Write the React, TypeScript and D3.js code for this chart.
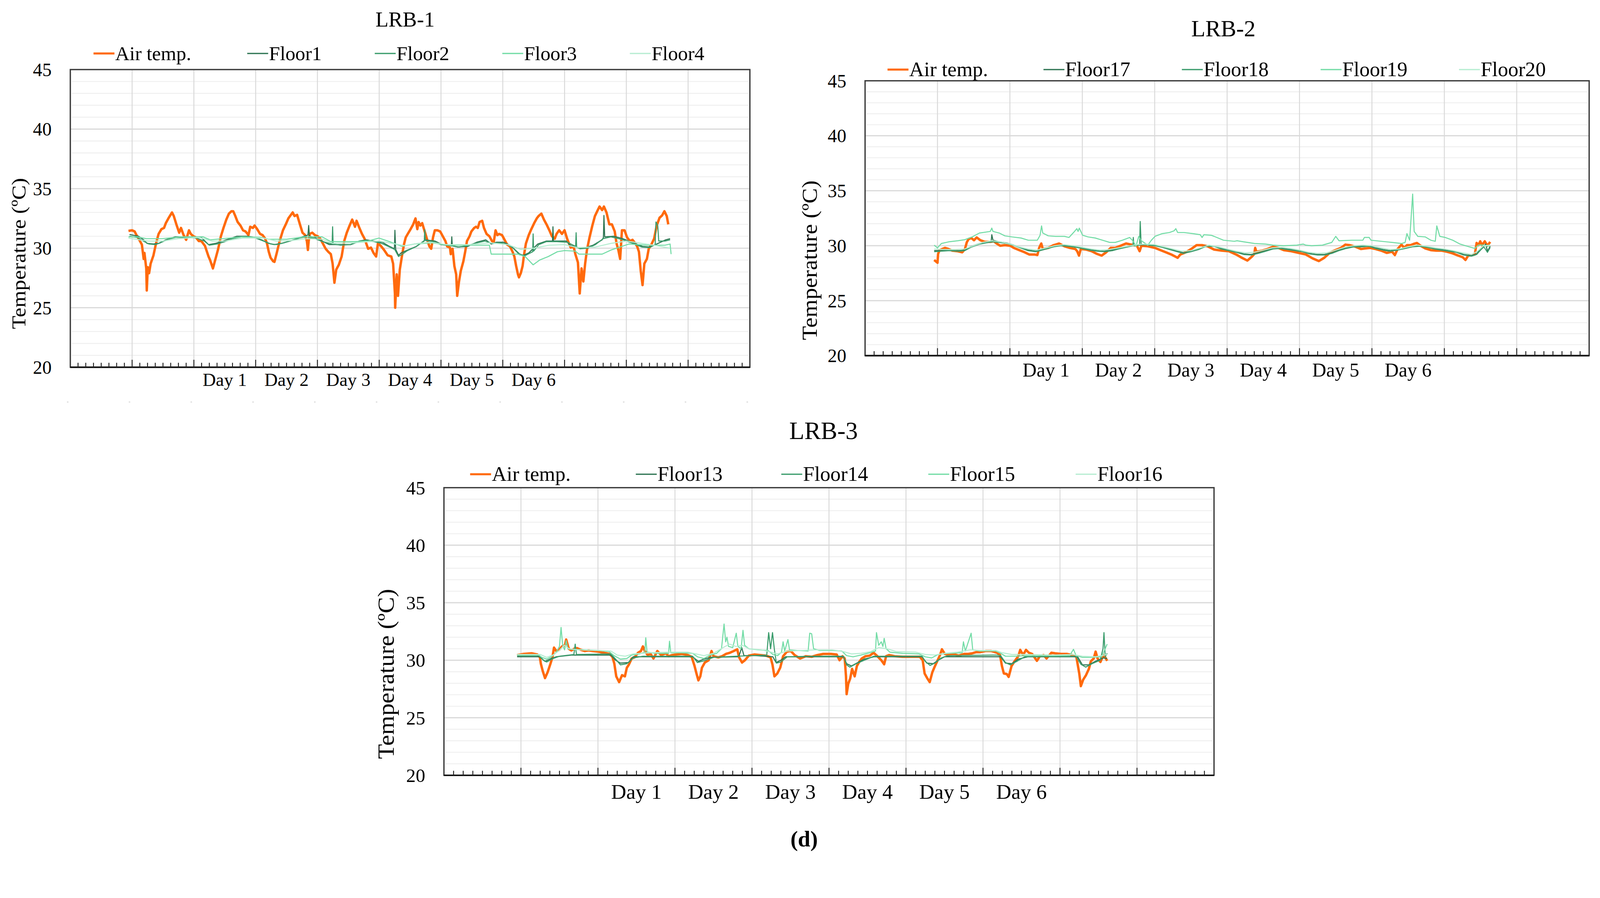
import React from "react";
import * as d3 from "d3";

type Pt = [number, number]; // [hour, temperature °C]

// ---------------- LRB-1 ----------------
const lrb1Air: Pt[] = [[22.6,31.45],[24,31.5],[25,31.4],[25.7,31.1],[26.8,30.7],[27.8,30.3],[28.5,29.1],[28.8,29.6],[29.5,28.3],[29.7,26.45],[30.1,28.4],[30.6,27.9],[31.2,28.7],[32.3,29.4],[33.3,30.4],[34.3,31.2],[35.4,31.6],[36.4,31.7],[37.1,32.1],[38.1,32.5],[39.5,33.0],[40.2,32.7],[41.2,32.0],[42.3,31.3],[43,31.7],[44,31.1],[45,30.7],[46.1,31.5],[46.8,31.2],[47.8,31.0],[48.8,30.9],[49.9,30.6],[50.9,30.6],[52.3,30.2],[53.7,29.3],[54.3,29.0],[55.4,28.3],[56.4,29.1],[57.4,29.9],[58.5,31.0],[59.5,31.7],[60.6,32.4],[61.6,32.9],[62.6,33.1],[63.3,33.1],[64.1,32.7],[65,32.2],[66.1,31.9],[67.1,31.5],[68.1,31.4],[69.2,31.1],[69.9,31.8],[70.9,31.7],[71.6,31.9],[72.6,31.6],[73.7,31.2],[74.7,31.1],[75.7,30.8],[76.4,30.4],[77.1,29.7],[77.8,29.2],[78.8,28.9],[79.3,28.85],[80.2,29.6],[81.2,30.5],[82.6,31.5],[83.7,32.0],[84.7,32.5],[85.7,32.8],[86.4,33.0],[87.1,32.7],[88.1,32.8],[89.2,32.0],[90.2,31.3],[91.2,31.1],[91.9,30.6],[92.3,29.85],[92.6,30.6],[93,31.2],[94,31.3],[95,31.1],[96.1,31.0],[97.1,30.8],[98.1,30.4],[99.2,29.95],[100.2,29.7],[101.2,29.5],[101.9,28.7],[102.6,27.1],[103.3,28.2],[104.3,28.6],[105.4,29.3],[106.4,30.6],[107.4,31.3],[108.5,31.9],[109.5,32.4],[110.6,31.8],[111.2,32.3],[112.3,31.7],[113.3,31.2],[114.3,30.8],[115.7,29.95],[116.8,30.05],[117.8,29.6],[118.8,29.3],[119.5,30.4],[120.6,30.2],[121.9,29.85],[123.3,29.4],[124.7,29.3],[125.4,28.7],[126.1,26.2],[126.2,25.0],[126.8,27.8],[127.3,26.0],[128.0,28.2],[128.8,29.3],[129.6,30.3],[130.3,30.9],[131.1,31.2],[132.2,31.6],[133.2,32.0],[134.1,32.5],[134.8,31.6],[135.3,32.2],[136.0,31.9],[136.7,32.1],[137.4,31.6],[138.1,31.1],[138.8,30.6],[139.5,30.15],[140.2,29.95],[140.9,30.9],[141.6,31.5],[142.6,31.5],[143.7,31.4],[144.7,31.0],[145.7,30.6],[146.4,30.15],[147.5,30.05],[147.8,29.5],[148.5,29.95],[149.2,28.5],[149.9,27.8],[150.3,26.0],[151.0,27.2],[151.7,28.1],[152.7,28.9],[153.4,29.7],[154.1,30.6],[155.1,31.0],[155.8,31.4],[156.9,31.7],[157.6,31.8],[158.3,31.7],[159.0,32.2],[160.0,32.3],[160.7,31.7],[161.7,31.2],[162.8,31.0],[163.8,30.6],[164.5,30.5],[165.2,31.5],[165.9,31.1],[166.6,31.2],[167.7,31.1],[168.7,30.7],[169.7,30.3],[170.8,30.15],[171.8,29.7],[172.5,29.3],[173.2,28.5],[173.9,27.8],[174.3,27.55],[175.0,27.9],[175.7,28.5],[176.3,29.5],[177.0,30.4],[178.1,31.1],[179.1,31.6],[180.2,32.1],[181.2,32.5],[181.9,32.7],[183.0,32.9],[184.0,32.4],[185.0,32.0],[186.1,31.5],[187.1,31.0],[188.2,30.8],[188.9,31.2],[189.9,31.5],[191.0,31.2],[192.0,31.5],[193.0,30.8],[193.7,30.4],[194.4,30.05],[195.5,30.15],[196.2,29.5],[197.2,28.8],[197.9,26.2],[198.6,28.3],[199.3,27.2],[200.0,28.7],[200.7,29.85],[201.7,30.9],[202.8,31.9],[203.8,32.7],[204.9,33.2],[205.6,33.5],[206.6,33.2],[207.3,33.5],[208.3,33.0],[209.4,32.0],[210.4,32.0],[211.5,31.4],[212.2,30.4],[212.9,29.85],[213.6,29.1],[214.3,31.5],[215.3,31.5],[216.3,30.9],[217.4,30.6],[218.4,30.7],[219.5,30.4],[220.2,30.15],[220.9,29.7],[221.6,28.1],[222.3,26.9],[223.0,28.7],[224.0,29.1],[224.7,29.95],[225.7,30.3],[226.8,30.8],[227.8,31.9],[228.9,32.55],[229.9,32.75],[230.8,33.1],[231.7,32.7],[232.3,32.0]];

const lrb1Floor1: Pt[] = [[23,31.15],[26.5,31.0],[28.5,30.7],[29.8,30.4],[32.3,30.35],[34.3,30.4],[37.1,30.7],[40.6,30.95],[44.7,30.95],[48.2,30.9],[50.9,30.9],[53.7,30.3],[56.4,30.4],[59.2,30.6],[62,30.8],[64.7,31.0],[68.8,31.0],[71.6,30.9],[74.3,30.7],[77.1,30.4],[79.2,30.3],[81.9,30.4],[85.4,30.6],[88.1,30.8],[90.9,31.0],[92.3,31.1],[92.6,31.9],[92.9,31.0],[95,30.9],[97.8,30.6],[100.6,30.3],[105.3,30.3],[108.8,30.3],[112.3,30.6],[115,30.7],[117.8,30.6],[121.2,30.5],[124,30.15],[125.9,29.95],[126.1,31.5],[126.4,29.9],[127.5,29.4],[128.5,29.6],[131.1,29.85],[134.5,30.15],[137.9,30.7],[141.6,30.6],[144,30.35],[148.0,30.2],[148.2,30.95],[148.4,30.2],[150.3,30.1],[154.4,30.15],[157.9,30.5],[161.4,30.7],[163.5,30.35],[165.6,30.5],[168.3,30.5],[171.1,30.2],[174.6,29.5],[176,29.4],[178.1,29.6],[181.6,30.35],[185,30.6],[187.3,30.6],[187.5,31.8],[187.7,30.6],[192.7,30.6],[194.1,30.25],[197.6,30.0],[200.3,30.05],[203.1,30.25],[206.6,30.7],[207.1,30.9],[207.3,32.75],[207.6,30.95],[211.1,31.0],[214.6,30.8],[218.1,30.5],[222.3,30.15],[225,30.1],[227.8,30.35],[231.3,30.7],[233,30.8]];

const lrb1Floor2: Pt[] = [[23,31.0],[26,30.9],[28.8,30.55],[30.5,30.35],[33,30.3],[35,30.45],[38,30.75],[41,30.9],[45,30.9],[49,30.85],[52,30.6],[54,30.25],[57,30.35],[60,30.55],[63,30.8],[66.5,30.95],[69,30.95],[72,30.85],[75,30.6],[78,30.35],[80,30.3],[83,30.45],[86,30.65],[89,30.85],[92,30.95],[95,30.8],[98,30.55],[101.7,30.35],[101.9,31.8],[102.1,30.35],[105,30.25],[109,30.3],[112,30.55],[115,30.65],[118,30.55],[121,30.4],[124,30.1],[126,29.9],[127.5,29.3],[129,29.5],[131,29.8],[134,30.1],[137.5,30.6],[137.7,31.55],[137.9,30.65],[141,30.55],[144,30.3],[148,30.2],[151,30.1],[154,30.2],[158,30.45],[161,30.6],[164,30.4],[167,30.45],[170,30.3],[172,30.0],[174.5,29.45],[176.5,29.35],[179.6,29.7],[179.8,31.2],[180,29.75],[182,30.3],[185,30.55],[189,30.55],[193,30.5],[196.3,30.15],[196.5,31.3],[196.7,30.1],[198,29.95],[201,30.0],[204,30.3],[207,30.8],[210,30.95],[214,30.75],[218,30.45],[222,30.1],[225,30.05],[227.2,30.3],[227.5,32.2],[228.2,31.9],[228.6,30.6],[231,30.6],[233,30.7]];

const lrb1Floor3: Pt[] = [[22.6,30.95],[26.1,30.95],[29.5,30.8],[35.7,30.8],[42.6,30.95],[51.6,30.95],[54.3,30.7],[59.2,30.8],[66.8,30.95],[74.3,30.9],[77.1,30.75],[84,30.75],[90.9,30.95],[97.8,30.95],[101.2,30.55],[110.2,30.55],[115.7,30.6],[119.9,30.85],[124,30.55],[128.8,30.15],[133.6,30.35],[140.5,30.45],[147.5,30.25],[162.8,30.25],[163.5,29.5],[173.9,29.5],[176.7,29.3],[179.8,28.6],[182.3,29.0],[185.7,29.3],[189.2,29.7],[192,29.8],[196.2,29.75],[197.6,29.5],[206.6,29.5],[210.1,29.85],[212.9,30.05],[217,30.35],[224,30.25],[231,30.25],[233,30.35],[233.4,29.5]];

const lrb1Floor4: Pt[] = [[22.6,30.85],[27,30.7],[30,30.6],[36,30.6],[42,30.8],[50,30.9],[55,30.6],[60,30.6],[67,30.85],[75,30.85],[80,30.6],[86,30.65],[92,30.8],[98,30.75],[102,30.4],[110,30.45],[116,30.55],[120,30.6],[125,30.4],[130,30.2],[135,30.4],[140,30.5],[146,30.3],[155,30.3],[163,30.45],[170,30.3],[175,29.9],[180,30.0],[186,30.25],[192,30.3],[197,30.05],[204,30.1],[210,30.4],[216,30.6],[222,30.4],[228,30.2],[233,30.0]];

// ---------------- LRB-2 ----------------
const lrb2Air: Pt[] = [[22.9,28.7],[24,28.45],[24.2,29.25],[24.7,29.6],[25.6,29.7],[26.5,29.8],[27.7,29.7],[28.9,29.55],[30.7,29.5],[32.2,29.4],[33.1,29.7],[33.7,30.3],[34.3,30.6],[35.2,30.7],[36.1,30.5],[37.0,30.75],[38.2,30.5],[39.7,30.35],[41.5,30.35],[42.7,30.4],[43.6,30.2],[44.8,30.0],[46.3,30.05],[48.1,30.0],[49.3,29.8],[51.1,29.6],[52.9,29.4],[54.4,29.2],[56.2,29.2],[57.1,29.15],[57.7,29.8],[58.4,30.2],[58.9,29.7],[60.7,29.8],[62.5,30.05],[64.3,30.2],[66.1,29.95],[67.9,29.8],[69.7,29.7],[70.3,29.5],[70.9,29.1],[71.5,29.7],[73.3,29.65],[75.1,29.5],[76.9,29.25],[78.4,29.1],[79.9,29.4],[81.4,29.8],[82.9,29.8],[84.7,30.0],[86.5,30.2],[88.3,30.1],[90.1,30.0],[91.0,29.5],[91.6,30.0],[93.7,29.95],[96.1,29.8],[97.9,29.6],[99.7,29.4],[101.5,29.2],[103.6,28.9],[104.5,29.2],[106.3,29.4],[108.1,29.7],[109.9,30.05],[111.7,30.05],[113.5,29.95],[115.7,29.65],[118.2,29.55],[120.6,29.5],[123.0,29.2],[124.9,28.9],[126.7,28.65],[128.2,29.0],[129.0,29.25],[129.3,29.8],[129.7,29.45],[131.6,29.55],[133.4,29.7],[135.2,29.9],[137.0,29.8],[138.8,29.6],[141.3,29.5],[143.7,29.35],[146.1,29.2],[148.3,28.85],[150.4,28.6],[152.2,28.9],[154.0,29.35],[155.9,29.6],[157.7,29.8],[159.2,30.1],[160.7,30.05],[162.6,29.9],[164.4,29.7],[165.6,29.75],[167.4,29.8],[169.2,29.7],[171.1,29.55],[172.9,29.35],[174.7,29.45],[175.6,29.15],[176.5,29.7],[177.8,30.1],[178.7,29.8],[179.6,30.05],[180.8,30.05],[181.7,30.15],[182.9,30.25],[184.1,30.0],[185.7,29.75],[187.5,29.6],[189.3,29.55],[191.1,29.55],[192.9,29.45],[194.8,29.3],[196.6,29.1],[198.1,28.95],[199.0,28.7],[199.9,29.1],[201.2,29.15],[202.1,29.2],[202.7,30.25],[203.3,30.05],[203.9,30.4],[204.5,30.05],[205.4,30.4],[206.3,30.0],[207.2,30.35]];

const lrb2Floor17: Pt[] = [[22.9,29.55],[24.7,29.55],[27.7,29.6],[30.7,29.55],[33.1,29.6],[34.9,29.9],[37.9,30.2],[39.7,30.3],[41.8,30.4],[42.0,31.0],[42.4,30.5],[44.5,30.35],[46.9,30.25],[49.3,30.05],[51.7,29.8],[54.1,29.6],[56.5,29.5],[57.7,29.6],[60.1,29.75],[62.5,29.95],[64.9,30.05],[67.3,30.0],[69.7,29.9],[72.1,29.8],[74.5,29.65],[76.9,29.55],[79.3,29.5],[81.7,29.6],[84.1,29.75],[86.5,29.9],[88.9,30.05],[93.7,30.1],[96.1,30.05],[98.5,29.9],[100.9,29.7],[103.3,29.5],[105.7,29.35],[108.1,29.5],[110.5,29.7],[112.9,30.0],[115.7,29.95],[118.2,29.75],[120.6,29.6],[123.0,29.45],[125.5,29.25],[127.9,29.2],[130.3,29.35],[132.8,29.55],[135.2,29.75],[137.6,29.8],[140.1,29.7],[142.5,29.6],[144.9,29.5],[147.4,29.3],[149.8,29.2],[152.2,29.2],[154.7,29.35],[157.1,29.6],[159.5,29.8],[161.9,29.95],[164.4,29.95],[166.8,30.0],[169.2,29.8],[171.7,29.65],[174.1,29.55],[176.5,29.65],[179.0,29.8],[181.4,29.95],[183.8,30.0],[186.3,29.9],[188.7,29.75],[191.1,29.65],[193.6,29.55],[196.0,29.45],[198.4,29.2],[200.9,29.1],[202.7,29.25],[203.9,29.7],[205.1,29.95],[205.7,30.15],[206.3,29.5],[207.2,29.95]];

const lrb2Floor18: Pt[] = [[22.9,29.45],[25,29.5],[28,29.55],[31,29.5],[33,29.55],[35,29.85],[38,30.15],[40,30.25],[42,30.35],[44.5,30.3],[47,30.2],[49.5,30.0],[52,29.75],[54,29.55],[56.5,29.45],[58,29.55],[60,29.7],[62.5,29.9],[65,30.0],[67.5,29.95],[70,29.85],[72,29.75],[74.5,29.6],[77,29.5],[79.5,29.45],[82,29.55],[84,29.7],[86.5,29.85],[88.8,30.0],[88.9,30.75],[89.1,30.0],[91.0,30.05],[91.2,32.2],[91.5,30.15],[94,30.05],[96,30.0],[98.5,29.85],[101,29.65],[103.5,29.45],[105.5,29.3],[108,29.45],[110.5,29.65],[113,29.95],[115.7,29.95],[118,29.7],[120.6,29.55],[123,29.4],[125.5,29.2],[128,29.15],[130.3,29.3],[132.8,29.5],[135.2,29.7],[137.6,29.75],[140,29.65],[142.5,29.55],[145,29.45],[147.4,29.25],[150,29.15],[152.2,29.15],[154.7,29.3],[157,29.55],[159.5,29.75],[162,29.9],[164.5,29.9],[167,29.95],[169.2,29.75],[171.7,29.6],[174,29.5],[176.5,29.6],[179,29.75],[181.4,29.9],[183.8,29.95],[186.3,29.85],[188.7,29.7],[191,29.6],[193.6,29.5],[196,29.4],[198.4,29.15],[201,29.05],[202.7,29.2],[204,29.6],[205.1,29.9],[206.3,29.4],[207.2,29.85]];

const lrb2Floor19: Pt[] = [[22.9,30.05],[24,29.8],[25.3,30.2],[27.7,30.35],[30.7,30.45],[33.1,30.55],[35.5,30.8],[37.9,31.15],[41.5,31.3],[42.0,31.6],[42.4,31.3],[44.5,31.15],[46.3,30.9],[48.7,30.8],[51.7,30.7],[54.1,30.5],[57.1,30.5],[58.0,30.95],[58.5,31.8],[58.9,31.15],[60.7,30.9],[63.1,30.85],[66.1,30.85],[67.6,30.75],[69.1,31.2],[70.2,31.55],[70.6,31.3],[71.0,31.6],[72.1,30.95],[73.9,30.8],[76.3,30.7],[78.7,30.5],[81.1,30.3],[82.9,30.3],[85.3,30.5],[87.7,30.75],[88.9,30.4],[89.8,29.95],[90.7,30.85],[91.6,30.45],[93.7,30.05],[94.9,30.5],[96.1,30.85],[98.5,31.1],[100.9,31.2],[102.4,31.35],[103.0,31.55],[103.6,31.2],[105.7,31.2],[108.7,31.1],[111.1,31.0],[111.7,30.75],[112.3,31.0],[114.7,30.95],[115.7,30.85],[118.8,30.5],[122.4,30.4],[123.3,30.45],[125.5,30.35],[129.1,30.2],[132.8,30.15],[135.2,30.05],[138.8,30.0],[143.1,30.05],[145.2,30.15],[146.1,30.05],[148.0,30.0],[151.6,30.05],[154.7,30.3],[156.0,30.85],[157.1,30.45],[161.3,30.5],[165.0,30.5],[165.5,30.75],[167.1,30.75],[167.7,30.5],[171.1,30.4],[174.7,30.3],[177.8,30.2],[179.0,30.3],[179.6,31.1],[180.5,30.5],[181.5,34.7],[182.0,31.3],[183.2,30.85],[185.7,30.8],[187.5,30.5],[189.0,30.4],[189.5,31.8],[190.5,30.85],[192.3,30.75],[194.8,30.5],[197.2,30.15],[199.6,29.95],[202.1,29.75],[203.3,30.05],[205.1,30.05],[206.3,29.95],[207.2,30.05]];

const lrb2Floor20: Pt[] = [[22.9,29.7],[26,29.65],[30,29.65],[33,29.7],[36,30.0],[39,30.3],[42,30.45],[45,30.35],[48,30.15],[51,29.9],[54,29.7],[57,29.6],[60,29.8],[63,30.0],[66,30.1],[69,30.0],[72,29.85],[75,29.7],[78,29.6],[81,29.65],[84,29.8],[87,29.95],[90,30.1],[93,30.15],[96,30.1],[99,29.9],[102,29.7],[105,29.5],[108,29.55],[111,29.8],[114,30.05],[117,29.9],[120,29.7],[123,29.5],[126,29.35],[129,29.4],[132,29.6],[135,29.8],[138,29.85],[141,29.75],[144,29.6],[147,29.4],[150,29.3],[153,29.35],[156,29.6],[159,29.85],[162,30.0],[165,30.05],[168,30.0],[171,29.8],[174,29.65],[177,29.7],[180,29.9],[183,30.05],[186,29.95],[189,29.8],[192,29.7],[195,29.55],[198,29.35],[201,29.2],[203,29.5],[205,30.0],[207.2,30.05]];

// ---------------- LRB-3 ----------------
const lrb3Air: Pt[] = [[22.8,30.45],[24.9,30.55],[27.3,30.6],[29.1,30.5],[29.9,30.25],[30.2,29.7],[30.8,29.05],[31.5,28.45],[32.3,28.95],[33.2,29.7],[33.8,30.25],[34.3,31.1],[35.0,30.8],[35.9,30.9],[36.8,31.2],[37.7,31.3],[38.1,31.8],[38.9,31.0],[39.7,30.85],[40.6,31.0],[41.5,31.05],[42.7,30.9],[43.9,30.8],[45.1,30.85],[46.3,30.8],[48.1,30.75],[49.8,30.65],[51.6,30.55],[52.5,30.3],[53.1,29.7],[53.7,28.6],[54.6,28.1],[55.5,28.7],[56.4,28.6],[57.0,29.35],[57.6,29.6],[58.5,30.15],[59.4,30.25],[60.5,30.65],[61.4,30.8],[62.0,31.2],[62.6,30.8],[63.5,30.45],[64.4,30.55],[65.3,30.15],[66.5,30.8],[67.7,30.45],[69.2,30.6],[70.0,30.35],[71.2,30.45],[72.4,30.5],[74.2,30.55],[76.0,30.45],[77.2,30.3],[78.1,29.5],[78.7,28.85],[79.3,28.25],[79.9,28.6],[80.4,29.35],[81.3,29.8],[82.5,30.0],[83.4,30.8],[84.0,30.35],[85.5,30.25],[86.7,30.35],[87.9,30.55],[89.1,30.65],[90.3,30.8],[91.4,30.95],[92.0,30.25],[92.9,29.8],[93.8,30.0],[95.0,30.4],[96.8,30.5],[98.6,30.45],[100.4,30.4],[101.8,30.25],[102.4,29.6],[103.0,28.6],[103.9,28.85],[104.8,29.35],[105.7,30.35],[106.9,30.75],[108.1,30.8],[109.3,30.45],[111.0,30.15],[112.8,30.35],[114.6,30.3],[116.4,30.45],[118.2,30.55],[120.6,30.55],[122.4,30.5],[123.3,30.0],[124.2,30.35],[124.9,30.15],[125.3,28.6],[125.5,27.05],[126.0,27.95],[126.6,28.4],[127.2,29.25],[128.0,28.6],[128.7,29.5],[129.3,29.8],[130.2,30.15],[131.4,30.35],[132.7,30.4],[133.9,30.65],[135.1,30.35],[136.3,30.0],[137.2,29.65],[137.8,30.35],[138.7,30.45],[140.5,30.35],[142.9,30.3],[145.9,30.3],[148.3,30.3],[149.2,30.0],[149.8,28.85],[150.7,28.4],[151.4,28.1],[152.2,28.95],[152.8,29.35],[153.7,29.9],[154.6,30.45],[155.2,30.95],[156.1,30.55],[157.3,30.45],[158.6,30.55],[160.4,30.4],[162.2,30.55],[163.4,30.55],[164.6,30.6],[165.8,30.7],[167.0,30.7],[168.8,30.8],[170.6,30.8],[172.4,30.65],[173.3,30.45],[173.9,29.5],[174.5,28.85],[175.4,28.8],[176.0,28.55],[176.9,29.5],[177.8,29.9],[179.0,30.35],[179.6,30.9],[180.5,30.45],[181.4,30.9],[182.3,30.65],[183.3,30.55],[184.8,29.95],[185.7,30.35],[186.9,30.45],[187.8,30.15],[189.3,30.65],[190.5,30.6],[192.3,30.55],[194.1,30.55],[195.9,30.45],[197.1,30.3],[198.0,28.85],[198.5,27.75],[199.2,28.3],[200.1,28.7],[201.0,29.25],[201.6,29.9],[202.5,30.15],[203.1,30.75],[203.7,30.15],[204.6,29.85],[205.5,30.45],[206.1,30.25],[206.7,29.95]];

const lrb3Floor13: Pt[] = [[22.8,30.3],[29.8,30.3],[31.5,29.9],[33,30.1],[35,30.3],[40,30.45],[52,30.45],[53.5,30.0],[55,29.75],[57.5,29.8],[59,30.3],[77.5,30.3],[79.3,29.9],[81,30.1],[83,30.25],[91.5,30.3],[92,30.4],[92.8,31.1],[93.5,30.4],[97,30.4],[102.5,30.3],[103.5,29.8],[105,30.0],[106.5,30.3],[115,30.3],[120,30.3],[124.5,30.3],[125.5,29.7],[127,29.5],[129,29.8],[131,30.1],[134,30.3],[149,30.3],[150.5,29.75],[152.5,29.7],[154,30.0],[156,30.3],[173.5,30.3],[175,29.75],[177,29.7],[179,30.1],[182,30.3],[197.5,30.3],[199,29.6],[201,29.6],[203,29.9],[205.5,30.2],[206.7,30.15]];

const lrb3Floor14: Pt[] = [[22.8,30.4],[29.8,30.4],[31,30.0],[32,29.85],[34,30.15],[36,30.35],[40.5,30.5],[40.9,31.4],[41.3,30.5],[52,30.55],[53.5,30.1],[55,29.6],[57,29.7],[59,30.2],[62,30.35],[77.5,30.35],[79,29.8],[81,29.95],[84,30.25],[91,30.35],[96,30.4],[100.6,30.45],[101.2,32.4],[101.8,31.0],[102.4,32.4],[103,30.9],[103.6,29.75],[105,29.85],[107,30.3],[115,30.35],[120,30.35],[124.5,30.35],[125.5,29.6],[126.5,29.4],[128.5,29.7],[131,30.0],[134,30.35],[149,30.35],[150,29.9],[151.5,29.55],[153,29.75],[155,30.2],[157,30.4],[172,30.45],[173.5,30.4],[175,29.8],[176.5,29.6],[178.5,29.9],[181,30.3],[197,30.35],[198.5,29.65],[200,29.4],[202,29.7],[204.5,30.0],[205.4,31.0],[205.7,32.4],[206.1,30.3],[206.7,30.6]];

const lrb3Floor15: Pt[] = [[22.8,30.45],[29.5,30.45],[30.5,30.25],[32,30.1],[33.5,30.3],[35,30.7],[36,31.2],[36.5,32.85],[37,31.3],[37.6,30.9],[38.1,31.7],[38.6,31.0],[40,30.95],[44,30.9],[48,30.85],[51.5,30.75],[53,30.4],[55,30.1],[57,30.15],[58.5,30.45],[61,30.55],[62.6,30.7],[62.9,31.95],[63.3,30.7],[66,30.6],[70,30.6],[70.3,31.65],[70.7,30.65],[74,30.65],[77.5,30.6],[79,30.3],[81,30.15],[83,30.45],[85,30.6],[86.5,31.0],[87.3,33.15],[87.8,31.6],[88.2,32.0],[88.7,31.2],[90,31.1],[91.1,32.35],[91.6,31.2],[92.6,31.0],[93.2,32.6],[93.7,31.3],[95,31.0],[98,30.9],[101,30.85],[102.5,30.5],[104,30.4],[105.2,30.7],[105.7,31.6],[106.2,30.8],[107.2,31.8],[107.7,30.9],[110,30.85],[113.5,30.8],[114,32.35],[114.6,32.3],[115.2,31.0],[117,30.85],[121,30.85],[124,30.8],[125.5,30.4],[127.5,30.3],[130,30.45],[132,30.6],[134.5,30.8],[134.8,32.4],[135.5,31.3],[136.3,31.6],[136.8,31.2],[137.2,31.9],[137.8,31.0],[139,30.7],[143,30.6],[148,30.55],[150,30.3],[152,30.2],[154,30.5],[157,30.6],[161.5,30.65],[161.9,31.6],[162.5,30.8],[164.3,32.35],[164.8,30.9],[167,30.8],[172,30.8],[173.5,30.6],[175,30.35],[178,30.35],[182,30.4],[186,30.4],[190,30.4],[195,30.4],[196.2,30.95],[197,30.4],[199,30.25],[202,30.25],[205,30.3],[206.7,31.4]];

const lrb3Floor16: Pt[] = [[22.8,30.5],[30,30.5],[32,30.25],[34,30.45],[36,30.85],[37.5,31.3],[39,31.0],[42,30.9],[48,30.85],[52,30.8],[54,30.45],[56.5,30.35],[59,30.55],[64,30.65],[70,30.7],[76,30.7],[78.5,30.55],[81,30.4],[84,30.6],[87,31.1],[89,31.4],[91,31.2],[93,31.3],[95,31.0],[99,30.9],[102,30.7],[104,30.55],[107,30.8],[112,30.85],[116,30.9],[121,30.9],[124.5,30.75],[127,30.55],[130,30.6],[133,30.75],[135.5,31.1],[138,31.0],[141,30.75],[147,30.7],[150,30.5],[153,30.45],[156,30.6],[160,30.7],[164,30.9],[167,30.85],[172,30.85],[174,30.65],[177,30.5],[182,30.5],[190,30.45],[196,30.5],[199,30.35],[203,30.3],[206.7,30.5]];

// ---------------- Labels ----------------
const tempTicks = [20, 25, 30, 35, 40, 45];
const dayLabels = ["Day 1", "Day 2", "Day 3", "Day 4", "Day 5", "Day 6"];
const seriesNames1 = ["Air temp.", "Floor1", "Floor2", "Floor3", "Floor4"];
const seriesNames2 = ["Air temp.", "Floor17", "Floor18", "Floor19", "Floor20"];
const seriesNames3 = ["Air temp.", "Floor13", "Floor14", "Floor15", "Floor16"];
const titles = ["LRB-1", "LRB-2", "LRB-3"];
const yTitle = "Temperature (ºC)";

const COLORS = ["#ff6a0d", "#2e7553", "#3b9c6c", "#73dca6", "#b7edd2"];
const WIDTHS = [6.5, 2.8, 2.8, 2.8, 2.8];
const FONT = "'Liberation Serif', 'Times New Roman', serif";

const panels = [
  {
    title: titles[0], names: seriesNames1, series: [lrb1Air, lrb1Floor1, lrb1Floor2, lrb1Floor3, lrb1Floor4],
    hours: 264, left: 188, right: 2005, top: 186, bottom: 982,
    titleXY: [1083, 52], titleFs: 57,
    legendY: 143, legendX: [250, 661, 1002, 1343, 1684], legendFs: 53,
    tickFs: 50, dayFs: 49, dayY: 1016,
    yTitleXY: [50, 678], yTitleLen: 404, yTitleFs: 54, dots: true,
  },
  {
    title: titles[1], names: seriesNames2, series: [lrb2Air, lrb2Floor17, lrb2Floor18, lrb2Floor19, lrb2Floor20],
    hours: 240, left: 2313, right: 4249, top: 216, bottom: 951,
    titleXY: [3271, 77], titleFs: 62,
    legendY: 186, legendX: [2373, 2790, 3160, 3531, 3901], legendFs: 55,
    tickFs: 50, dayFs: 52, dayY: 990,
    yTitleXY: [2165, 696], yTitleLen: 427, yTitleFs: 58, dots: false,
  },
  {
    title: titles[2], names: seriesNames3, series: [lrb3Air, lrb3Floor13, lrb3Floor14, lrb3Floor15, lrb3Floor16],
    hours: 240, left: 1187, right: 3246, top: 1304, bottom: 2073,
    titleXY: [2202, 1152], titleFs: 66,
    legendY: 1268, legendX: [1257, 1700, 2089, 2482, 2876], legendFs: 55,
    tickFs: 51, dayFs: 56, dayY: 2117,
    yTitleXY: [1032, 1802], yTitleLen: 455, yTitleFs: 62, dots: false,
  },
];

function Panel({ p }: { p: any }) {
  const x = d3.scaleLinear().domain([0, p.hours]).range([p.left, p.right]);
  const y = d3.scaleLinear().domain([20, 45]).range([p.bottom, p.top]);
  const line = d3.line<Pt>().x((d) => x(d[0])).y((d) => y(d[1]));
  const majorX = d3.range(24, p.hours, 24);
  const minorX = d3.range(3, p.hours, 3).filter((h) => h % 24 !== 0);
  const yMinor = d3.range(21, 45).filter((v) => v % 5 !== 0);
  const yMajor = tempTicks.filter((v) => v > 20 && v < 45);
  const legLen = 56;
  return (
    <g>
      {yMinor.map((v) => (
        <line key={"ym" + v} x1={p.left + 4} x2={p.right - 4} y1={y(v)} y2={y(v)} stroke="#efefef" strokeWidth={2.5} />
      ))}
      {yMajor.map((v) => (
        <line key={"yM" + v} x1={p.left} x2={p.right} y1={y(v)} y2={y(v)} stroke="#d9d9d9" strokeWidth={3} />
      ))}
      {majorX.map((h) => (
        <line key={"xg" + h} x1={x(h)} x2={x(h)} y1={p.top} y2={p.bottom} stroke="#d9d9d9" strokeWidth={2.5} />
      ))}
      {p.series.map((s: Pt[], i: number) => (
        <path key={"s" + i} d={line(s) || ""} fill="none" stroke={COLORS[i]} strokeWidth={WIDTHS[i]} strokeLinejoin="round" />
      ))}
      <rect x={p.left} y={p.top} width={p.right - p.left} height={p.bottom - p.top} fill="none" stroke="#3a3a3a" strokeWidth={3.5} />
      <line x1={p.left} x2={p.right} y1={p.bottom} y2={p.bottom} stroke="#111" strokeWidth={4} />
      {minorX.map((h) => (
        <line key={"mt" + h} x1={x(h)} x2={x(h)} y1={p.bottom} y2={p.bottom - 12} stroke="#222" strokeWidth={2.5} />
      ))}
      {majorX.map((h) => (
        <line key={"Mt" + h} x1={x(h)} x2={x(h)} y1={p.bottom} y2={p.bottom - 20} stroke="#222" strokeWidth={2.5} />
      ))}
      {p.dots &&
        d3.range(0, p.hours + 1, 24).map((h) => (
          <rect key={"dot" + h} x={x(h) - 9} y={1073} width={4} height={4} fill="#e2e2e2" />
        ))}
      {tempTicks.map((v) => (
        <text key={"yl" + v} x={p.left - 50} y={y(v)} dy="0.35em" textAnchor="end" fontFamily={FONT} fontSize={p.tickFs} fill="#000">
          {v}
        </text>
      ))}
      {dayLabels.map((d, i) => (
        <text key={d} x={x(36 + 24 * (i + 1))} y={p.dayY} dy="0.33em" textAnchor="middle" fontFamily={FONT} fontSize={p.dayFs} fill="#000">
          {d}
        </text>
      ))}
      <text x={p.titleXY[0]} y={p.titleXY[1]} dy="0.33em" textAnchor="middle" fontFamily={FONT} fontSize={p.titleFs} fill="#000">
        {p.title}
      </text>
      {p.names.map((n: string, i: number) => (
        <g key={n}>
          <line x1={p.legendX[i]} x2={p.legendX[i] + legLen} y1={p.legendY} y2={p.legendY} stroke={COLORS[i]} strokeWidth={i === 0 ? 5.5 : 3.5} />
          <text x={p.legendX[i] + legLen + 2} y={p.legendY} dy="0.33em" fontFamily={FONT} fontSize={p.legendFs} fill="#000">
            {n}
          </text>
        </g>
      ))}
      <text
        transform={`translate(${p.yTitleXY[0]},${p.yTitleXY[1]}) rotate(-90)`}
        dy="0.33em"
        textAnchor="middle"
        fontFamily={FONT}
        fontSize={p.yTitleFs}
        textLength={p.yTitleLen}
        lengthAdjust="spacingAndGlyphs"
        fill="#000"
      >
        {yTitle}
      </text>
    </g>
  );
}

export default function App() {
  return (
    <svg
      viewBox="0 0 4278 2299"
      style={{
        position: "absolute",
        left: 0,
        top: 0,
        width: "100vw",
        height: `${(2299 / 4278) * 100}vw`,
        display: "block",
        background: "#fff",
      }}
    >
      <rect x={0} y={0} width={4278} height={2299} fill="#fff" />
      {panels.map((p) => (
        <Panel key={p.title} p={p} />
      ))}
      <text x={2150} y={2243} dy="0.33em" textAnchor="middle" fontFamily={FONT} fontSize={60} fontWeight="bold" fill="#000">
        (d)
      </text>
    </svg>
  );
}
